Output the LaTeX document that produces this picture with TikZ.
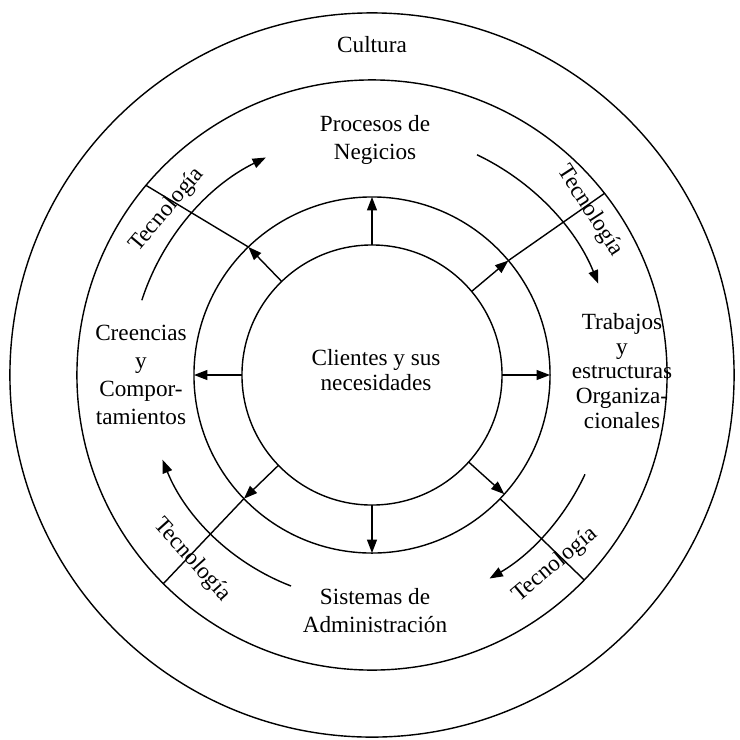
\documentclass[tikz,border=0pt]{standalone}
\usepackage{fontspec}
\setmainfont{Liberation Serif}
\usetikzlibrary{arrows.meta}
\begin{document}
\begin{tikzpicture}[x=0.025cm,y=0.025cm,
  ring/.style={draw, circle, line width=1pt, inner sep=0pt, outer sep=0pt},
  link/.style={line width=1pt},
  arrowlink/.style={line width=1pt, -{Triangle[length=9.5pt,width=7pt]}},
  lbl/.style={align=center, font=\fontsize{16.5pt}{19.9pt}\selectfont, inner sep=0pt},
  tightlbl/.style={align=center, font=\fontsize{16.5pt}{17.6pt}\selectfont, inner sep=0pt},
  tec/.style={font=\fontsize{16.5pt}{19.9pt}\selectfont, inner sep=0pt}]
\useasboundingbox (-372,-364) rectangle (368,375);

% concentric layers
\node[ring, minimum size=18.1cm]  (cultura)  at (0,0) {};
\node[ring, minimum size=14.75cm] (capas)    at (0,0) {};
\node[ring, minimum size=8.9cm]   (anillo)   at (0,0) {};
\node[ring, minimum size=6.5cm]   (clientes) at (0,0) {};

% texts
\node[lbl] (tcult) at (0,330) {Cultura};
\node[lbl] (tproc) at (3,235) {Procesos de\\Negicios};
\node[lbl] (tcree) at (-231,0) {Creencias\\y\\Compor-\\tamientos};
\node[tightlbl] (ttrab) at (250,4) {Trabajos\\y\\estructuras\\Organiza-\\cionales};
\node[tightlbl] (tcli) at (4,5) {Clientes y sus\\necesidades};
\node[lbl] (tsis) at (3,-236) {Sistemas de\\Administración};

% arrows from the customers to the ring
\draw[arrowlink] (clientes.90)    -- (anillo.90);
\draw[arrowlink] (clientes.270)   -- (anillo.270);
\draw[arrowlink] (clientes.180)   -- (anillo.180);
\draw[arrowlink] (clientes.0)     -- (anillo.0);
\draw[arrowlink] (clientes.134.5) -- (anillo.134.5);
\draw[arrowlink] (clientes.40.5)  -- (anillo.40.5);
\draw[arrowlink] (clientes.224.5) -- (anillo.224.5);
\draw[arrowlink] (clientes.-42)   -- (anillo.-42);

% dividers between the layers
\draw[link] (anillo.134.5) -- (capas.140);
\draw[link] (anillo.40.5)  -- (capas.38.8);
\draw[link] (anillo.224.5) -- (capas.225);
\draw[link] (anillo.-44)   -- (capas.-44.2);

% technology flows
\coordinate (flowA) at (162:242);
\coordinate (flowB) at (64.5:244);
\coordinate (flowC) at (249:226);
\coordinate (flowD) at (-25:235);
\draw[arrowlink] (flowA) arc[start angle=162, end angle=116, radius=242];
\draw[arrowlink] (flowB) arc[start angle=64.5, end angle=22, radius=244];
\draw[arrowlink] (flowC) arc[start angle=249, end angle=202, radius=226];
\draw[arrowlink] (flowD) arc[start angle=-25, end angle=-60, radius=235];

\node[tec, rotate=50]  (tecA) at (-205,165)  {Tecnología};
\node[tec, rotate=-57] (tecB) at (218,164)   {Tecnología};
\node[tec, rotate=-48] (tecC) at (-180,-185) {Tecnología};
\node[tec, rotate=40]  (tecD) at (183,-190)  {Tecnología};
\end{tikzpicture}
\end{document}
